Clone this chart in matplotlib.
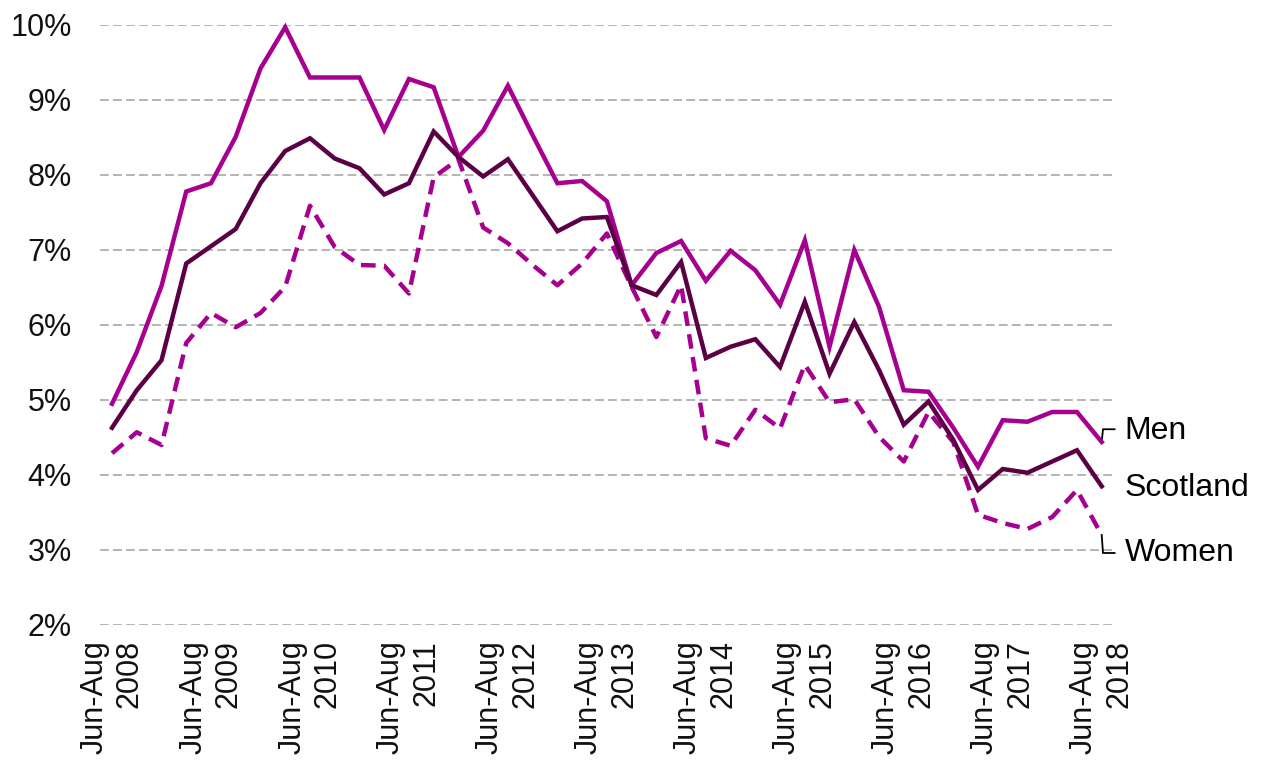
import matplotlib
matplotlib.use("Agg")
import matplotlib.pyplot as plt

plt.rcParams["font.family"] = ["Liberation Sans", "DejaVu Sans"]

# quarterly unemployment rate, Jun-Aug 2008 .. Jun-Aug 2018
years = list(range(2008, 2019))
tick_labels = ["Jun-Aug\n%d" % y for y in years]

men = [4.95, 5.64, 6.52, 7.78, 7.89, 8.51, 9.42, 9.97, 9.30, 9.30,
       9.30, 8.60, 9.28, 9.17, 8.24, 8.59, 9.19, 8.53, 7.89, 7.92,
       7.65, 6.53, 6.96, 7.12, 6.59, 6.99, 6.73, 6.27, 7.13, 5.71,
       7.00, 6.24, 5.13, 5.11, 4.63, 4.11, 4.73, 4.71, 4.84, 4.84,
       4.44]
scotland = [4.63, 5.13, 5.53, 6.82, 7.05, 7.28, 7.89, 8.32, 8.49, 8.22,
            8.09, 7.74, 7.89, 8.58, 8.24, 7.98, 8.21, 7.73, 7.25, 7.42,
            7.44, 6.53, 6.40, 6.84, 5.56, 5.71, 5.81, 5.44, 6.31, 5.35,
            6.04, 5.40, 4.67, 4.98, 4.47, 3.80, 4.08, 4.03, 4.18, 4.33,
            3.85]
women = [4.29, 4.57, 4.40, 5.76, 6.16, 5.97, 6.16, 6.51, 7.59, 7.04,
         6.80, 6.79, 6.42, 7.97, 8.21, 7.30, 7.09, 6.80, 6.53, 6.82,
         7.22, 6.51, 5.84, 6.53, 4.49, 4.39, 4.87, 4.62, 5.47, 4.97,
         5.01, 4.51, 4.18, 4.84, 4.44, 3.47, 3.36, 3.28, 3.44, 3.80,
         3.20]

MAGENTA = "#A5008F"
DARK = "#5C0045"
FS = 22

x = list(range(len(men)))

fig = plt.figure(figsize=(12.63, 7.62), dpi=100)
ax = fig.add_axes([0.0789, 0.1798, 0.8032, 0.7874])

ax.plot(x, men, color=MAGENTA, lw=3.2, solid_joinstyle="miter", clip_on=False, zorder=3)
ax.plot(x, scotland, color=DARK, lw=3.2, solid_joinstyle="miter", clip_on=False, zorder=4)
ax.plot(x, women, color=MAGENTA, lw=3.2, linestyle=(0, (3.3, 1.9)), clip_on=False, zorder=2)

ax.set_xlim(-0.5, len(x) - 0.5)
ax.set_ylim(2, 10)
ax.set_yticks(range(2, 11))
ax.set_yticklabels(["%d%%" % v for v in range(2, 11)])
ax.set_xticks(x[::4])
ax.set_xticklabels(tick_labels, rotation=90, ha="center", va="top",
                   multialignment="right", linespacing=1.25)

ax.yaxis.grid(True, color="#B4B4B4", lw=1.4, linestyle=(0, (4.5, 2.2)))
ax.set_axisbelow(True)
for s in ax.spines.values():
    s.set_visible(False)
ax.tick_params(axis="both", length=0, labelsize=FS, labelcolor="#111111")
ax.tick_params(axis="y", pad=20)
ax.tick_params(axis="x", pad=11)

# end labels with small leader lines
last = x[-1]
lx = last + 0.93
ax.plot([last, last + 0.05, last + 0.52], [men[-1], men[-1] + 0.17, men[-1] + 0.17],
        color="black", lw=1.3, clip_on=False)
ax.plot([last, last + 0.05, last + 0.52], [women[-1], women[-1] - 0.24, women[-1] - 0.24],
        color="black", lw=1.3, clip_on=False)
ax.text(lx, men[-1] + 0.15, "Men", fontsize=23, va="center", ha="left")
ax.text(lx, scotland[-1] - 0.02, "Scotland", fontsize=23, va="center", ha="left")
ax.text(lx, women[-1] - 0.24, "Women", fontsize=23, va="center", ha="left")

fig.savefig("out.png", dpi=100)
